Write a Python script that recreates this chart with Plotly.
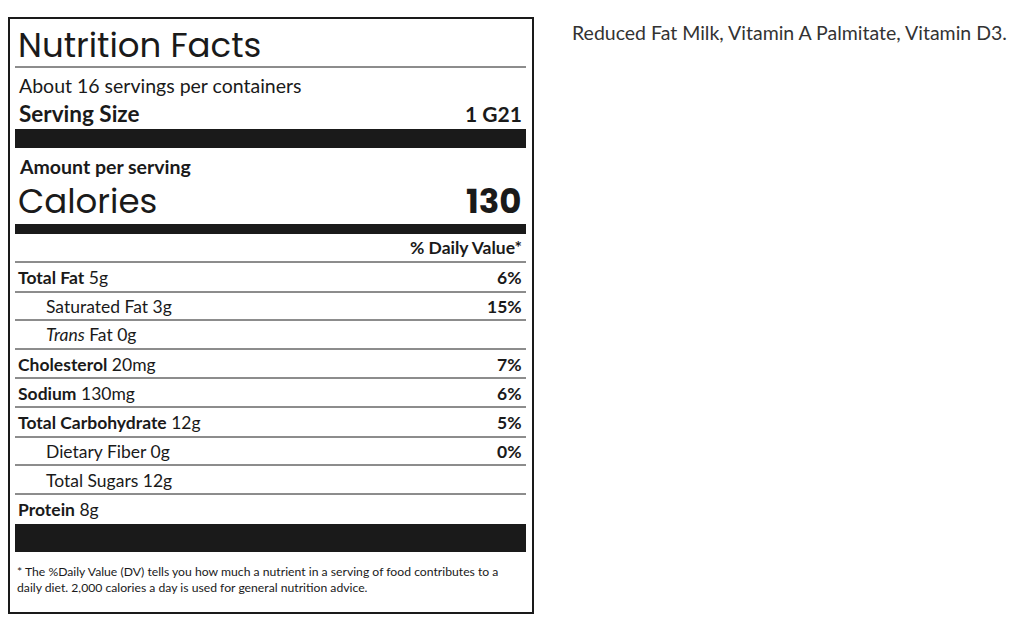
import plotly.graph_objects as go

# nutrient rows: (bold name, amount, daily value, indented, italic prefix)
names = ["Total Fat", "Saturated Fat", "Trans Fat", "Cholesterol", "Sodium",
         "Total Carbohydrate", "Dietary Fiber", "Total Sugars", "Protein"]
amounts = ["5g", "3g", "0g", "20mg", "130mg", "12g", "0g", "12g", "8g"]
daily = ["6%", "15%", "", "7%", "6%", "5%", "0%", "", ""]
indented = [False, True, True, False, False, False, True, True, False]

servings = "About 16 servings per containers"
serving_size = "1 G21"
calories = "130"
ingredients = "Reduced Fat Milk, Vitamin A Palmitate, Vitamin D3."
footnote = ("* The %Daily Value (DV) tells you how much a nutrient in a serving of food contributes to a<br>"
            "daily diet. 2,000 calories a day is used for general nutrition advice.")

row_y = [277, 306, 334, 364, 393, 422, 451, 480, 509]
sep_y = [262, 292, 320, 349, 378, 407, 437, 465, 494]

FONT = "Lato"
DARK = "#1a1a1a"
OFF = 8  # page body margin
L, R = 15, 526

fig = go.Figure()
shapes = []
ann = []

def text(x, y, s, size, anchor="left", color=DARK, family=FONT):
    ann.append(dict(x=x - OFF, y=y - OFF, text=s, showarrow=False, xanchor=anchor, yanchor="middle",
                    font=dict(size=size, color=color, family=family)))

def hline(y, w=1):
    shapes.append(dict(type="line", x0=L - OFF, x1=R - OFF, y0=y - OFF, y1=y - OFF,
                       line=dict(color=DARK, width=w)))

def bar(y0, y1):
    shapes.append(dict(type="rect", x0=L - OFF, x1=R - OFF, y0=y0 - OFF, y1=y1 - OFF,
                       fillcolor=DARK, line=dict(width=0)))

shapes.append(dict(type="rect", x0=8 - OFF + 1, x1=533 - OFF, y0=18 - OFF, y1=613 - OFF,
                   line=dict(color=DARK, width=2)))

text(16, 45, "Nutrition Facts", 34, family="Poppins, Inter, sans-serif")
hline(67)
text(17, 85, servings, 19.5)
text(17, 113, "<b>Serving Size</b>", 22.5)
text(524, 113, "<b>" + serving_size + "</b>", 21, "right")
bar(129, 148)
text(17, 166, "<b>Amount per serving</b>", 19.5)
text(16, 201, "Calories", 34, family="Poppins, Inter, sans-serif")
text(524, 201, "<b>" + calories + "</b>", 34, "right", family="Poppins, Inter, sans-serif")
bar(224, 234)
text(524, 247, "<b>% Daily Value*</b>", 17.5, "right")

for i, n in enumerate(names):
    hline(sep_y[i])
    if n == "Trans Fat":
        label = "<i>Trans</i> Fat " + amounts[i]
    elif indented[i]:
        label = n + " " + amounts[i]
    else:
        label = "<b>" + n + "</b> " + amounts[i]
    text(44 if indented[i] else 16, row_y[i], label, 17.5)
    if daily[i]:
        text(524, row_y[i], "<b>" + daily[i] + "</b>", 17.5, "right")

bar(524, 552)
ann.append(dict(x=15 - OFF, y=579 - OFF, text=footnote, showarrow=False, xanchor="left", yanchor="middle",
                align="left", font=dict(size=12.2, color=DARK, family=FONT)))

text(570, 32, ingredients, 19.5, color="#333333")

fig.update_layout(
    width=1024, height=628, margin=dict(l=0, r=0, t=0, b=0),
    paper_bgcolor="white", plot_bgcolor="white",
    xaxis=dict(range=[0, 1024], visible=False, fixedrange=True),
    yaxis=dict(range=[628, 0], visible=False, fixedrange=True),
    shapes=shapes, annotations=ann, showlegend=False,
)

fig.write_html("out.html")
